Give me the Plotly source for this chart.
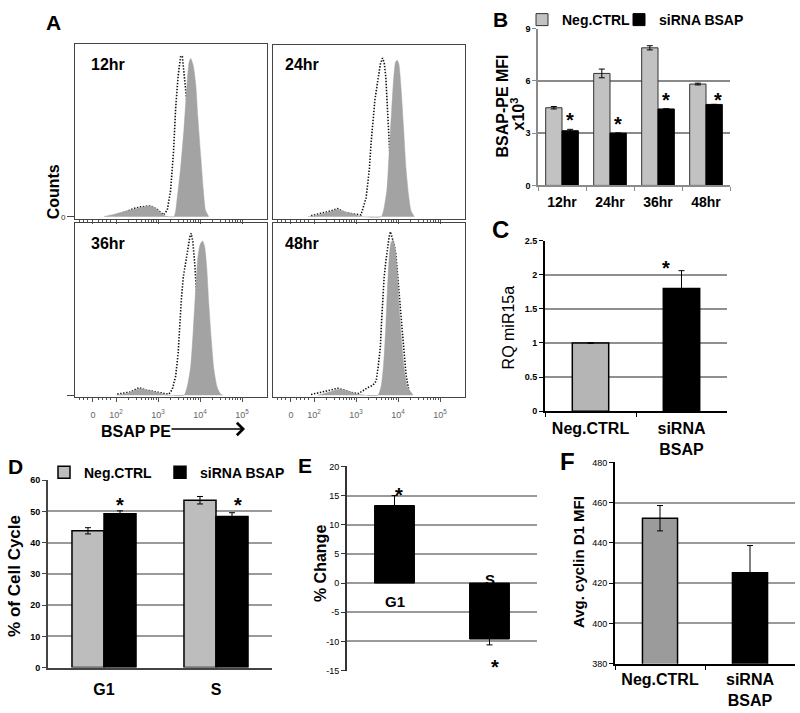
import numpy as np
import plotly.graph_objects as go

W, H = 800, 713
FONT = "Liberation Sans, Arial, Helvetica, sans-serif"


def px(x):
    return x / W


def py(y):
    return 1 - y / H


# ---------------- Panel A: flow histograms (x in decades, y in % of max) ----------------
hist_labels = ['12hr', '24hr', '36hr', '48hr']
hist_tick_labels = ['0', '10<sup>2</sup>', '10<sup>3</sup>', '10<sup>4</sup>', '10<sup>5</sup>']

h12_fill_x = [1.71, 2.03, 2.27, 2.51, 2.83, 2.98, 3.10, 3.18, 3.38, 3.46, 3.54, 3.62, 3.70, 3.74, 3.78, 3.84, 3.90, 3.95, 4.02, 4.08, 4.13, 4.21]
h12_fill_y = [0, 1.9, 3.4, 4.8, 6.3, 4.2, 1.5, 0.4, 0, 11.4, 28.6, 51.4, 79.8, 89.5, 91.8, 87.6, 76.2, 57.1, 34.3, 15.2, 3.8, 0]
h12_dot_x = [2.03, 2.43, 2.59, 2.83, 2.98, 3.13, 3.22, 3.30, 3.37, 3.42, 3.48, 3.54, 3.58, 3.62, 3.66, 3.74, 3.82, 3.90, 3.98]
h12_dot_y = [1.0, 4.8, 5.7, 6.3, 4.2, 1.1, 3.8, 15.2, 38.0, 62.9, 81.9, 93.3, 93.0, 83.8, 72.4, 53.3, 24.8, 5.7, 0]

h24_fill_x = [1.85, 2.17, 2.40, 2.56, 2.72, 2.96, 3.12, 3.20, 3.60, 3.67, 3.74, 3.79, 3.85, 3.90, 3.94, 3.98, 4.02, 4.07, 4.13, 4.19, 4.25, 4.31, 4.39]
h24_fill_y = [0, 1.5, 3.0, 4.4, 3.0, 1.5, 0.2, 0, 0, 5.3, 16.8, 37.7, 62.5, 81.5, 90.1, 91.4, 89.1, 75.8, 52.9, 28.2, 12.9, 3.4, 0]
h24_dot_x = [1.93, 2.25, 2.40, 2.56, 2.72, 2.96, 3.12, 3.24, 3.32, 3.36, 3.40, 3.45, 3.52, 3.58, 3.63, 3.67, 3.71, 3.75, 3.79, 3.83, 3.87, 3.93]
h24_dot_y = [0.6, 2.5, 3.4, 4.8, 2.5, 1.5, 1.1, 11.0, 28.2, 43.4, 56.6, 68.2, 79.6, 89.1, 92.6, 90.1, 81.5, 62.5, 39.6, 18.7, 6.3, 0.6]

h36_fill_x = [2.03, 2.27, 2.51, 2.59, 2.83, 3.06, 3.22, 3.30, 3.62, 3.70, 3.78, 3.84, 3.90, 3.95, 4.00, 4.06, 4.11, 4.16, 4.21, 4.27, 4.33, 4.41, 4.49, 4.55]
h36_fill_y = [0, 1.1, 3.4, 3.8, 2.5, 1.1, 0.2, 0, 0, 5.3, 16.8, 37.7, 62.5, 80.0, 87.2, 89.5, 86.3, 73.9, 52.9, 32.0, 14.9, 4.4, 0.6, 0]
h36_dot_x = [2.03, 2.35, 2.55, 2.71, 2.90, 3.10, 3.26, 3.34, 3.42, 3.48, 3.52, 3.56, 3.60, 3.66, 3.71, 3.76, 3.79, 3.83, 3.87, 3.90, 3.94, 4.00, 4.08, 4.16, 4.24]
h36_dot_y = [0.6, 1.9, 4.4, 2.9, 2.1, 1.1, 0.6, 3.4, 11.0, 24.4, 43.4, 56.8, 68.2, 77.7, 85.3, 92.0, 93.9, 89.1, 77.7, 62.5, 51.0, 36.0, 14.0, 2.0, 0]

h48_fill_x = [2.09, 2.33, 2.52, 2.64, 2.80, 2.96, 3.12, 3.20, 3.52, 3.60, 3.66, 3.71, 3.75, 3.79, 3.83, 3.88, 3.93, 3.98, 4.03, 4.09, 4.15, 4.23, 4.35]
h48_fill_y = [0, 1.5, 3.0, 3.4, 2.5, 1.1, 0.2, 0, 0, 5.3, 18.7, 39.6, 62.5, 79.6, 88.2, 90.1, 85.5, 72.0, 50.7, 30.1, 14.9, 4.4, 0.4]
h48_dot_x = [1.93, 2.17, 2.40, 2.56, 2.72, 2.88, 3.06, 3.16, 3.28, 3.40, 3.48, 3.53, 3.58, 3.61, 3.64, 3.67, 3.71, 3.75, 3.79, 3.82, 3.85, 3.88, 3.91, 3.95, 4.03, 4.11, 4.19, 4.27]
h48_dot_y = [0.4, 1.5, 3.0, 4.0, 3.0, 1.5, 1.0, 2.5, 4.4, 5.7, 8.2, 16.8, 28.2, 43.4, 58.6, 68.2, 77.7, 85.3, 92.0, 94.9, 92.6, 90.1, 87.2, 81.5, 60.0, 35.0, 12.0, 1.0]

# ---------------- Panel B ----------------
b_categories = ['12hr', '24hr', '36hr', '48hr']
b_neg = [4.46, 6.43, 7.90, 5.82]
b_neg_err = [0.07, 0.25, 0.12, 0.05]
b_si = [3.14, 3.00, 4.39, 4.65]
b_si_err = [0.08, 0.0, 0.0, 0.0]
series_names = ['Neg.CTRL', 'siRNA BSAP']

# ---------------- Panel C ----------------
c_categories = ['Neg.CTRL', 'siRNA BSAP']
c_labels = ['Neg.CTRL', 'siRNA<br>BSAP']
c_values = [1.00, 1.80]
c_err = [0.005, 0.26]

# ---------------- Panel D ----------------
d_categories = ['G1', 'S']
d_neg = [43.8, 53.6]
d_neg_err = [1.0, 1.2]
d_si = [49.3, 48.4]
d_si_err = [0.9, 1.2]

# ---------------- Panel E ----------------
e_categories = ['G1', 'S']
e_values = [13.3, -9.6]
e_err = [1.7, 1.0]
e_ticks = [-15, -10, -5, 0, 5, 10, 15, 20]

# ---------------- Panel F ----------------
f_categories = ['Neg.CTRL', 'siRNA BSAP']
f_labels = ['Neg.CTRL', 'siRNA<br>BSAP']
f_values = [452.3, 425.2]
f_err = [6.3, 13.5]

# =====================================================================
fig = go.Figure()
layout = {}
ann = []

HIST_GRAY = '#a3a3a3'
hist_boxes = [((75, 267), (40, 217)), ((273, 465), (41, 217)),
              ((75, 267), (221, 398)), ((273, 465), (221, 398))]
hist_series = [(h12_fill_x, h12_fill_y, h12_dot_x, h12_dot_y),
               (h24_fill_x, h24_fill_y, h24_dot_x, h24_dot_y),
               (h36_fill_x, h36_fill_y, h36_dot_x, h36_dot_y),
               (h48_fill_x, h48_fill_y, h48_dot_x, h48_dot_y)]
minor_vals = sorted([d + float(np.log10(k)) for d in (2, 3, 4) for k in range(2, 10)]
                    + [1.12, 1.22, 1.32, 1.58, 1.68, 1.78, 1.88])

for i, ((x0, x1), (y0, y1)) in enumerate(hist_boxes):
    n = i + 1
    key = '' if n == 1 else str(n)
    xa, ya = 'x' + key, 'y' + key
    fx, fy, dx, dy = hist_series[i]
    fig.add_trace(go.Scatter(x=dx, y=dy, mode='lines', line=dict(color='#111', width=1.6, dash='1.4px,1.6px'),
                             xaxis=xa, yaxis=ya, showlegend=False, hoverinfo='skip'))
    fig.add_trace(go.Scatter(x=fx, y=fy, mode='lines', fill='tozeroy', fillcolor=HIST_GRAY,
                             line=dict(color=HIST_GRAY, width=0.5, shape='spline', smoothing=0.6),
                             xaxis=xa, yaxis=ya, showlegend=False, hoverinfo='skip'))
    layout['xaxis' + key] = dict(domain=[px(x0), px(x1)], anchor=ya, range=[1.024, 5.595], showgrid=False,
                                 zeroline=False, showline=True, mirror=True, linecolor='#444', linewidth=1,
                                 ticks='outside', ticklen=4, tickcolor='#555', tickmode='array',
                                 tickvals=[1.45, 2, 3, 4, 5], ticktext=hist_tick_labels,
                                 showticklabels=(n >= 3), ticklabelstandoff=5,
                                 tickfont=dict(family=FONT, size=9, color='#666'),
                                 minor=dict(tickmode='array', tickvals=minor_vals, ticks='outside',
                                            ticklen=2, tickcolor='#555'))
    layout['yaxis' + key] = dict(domain=[py(y1), py(y0)], anchor=xa, range=[-1.3, 100], showgrid=False,
                                 zeroline=False, showline=True, mirror=True, linecolor='#444', linewidth=1,
                                 tickmode='array', tickvals=[0] if n in (1, 3) else [], ticktext=['0'],
                                 ticks='outside' if n in (1, 3) else '', ticklen=7, tickcolor='#444',
                                 showticklabels=(n == 1), tickfont=dict(family=FONT, size=8, color='#333'))
    lx = 89 if n in (1, 3) else 283
    ly = 60 if n <= 2 else 242
    ann.append(dict(x=px(lx), y=py(ly), xref='paper', yref='paper', text=hist_labels[i], showarrow=False,
                    xanchor='left', yanchor='middle', font=dict(family=FONT, size=16, weight='bold', color='black')))

ERR = dict(type='data', color='black', thickness=1, width=3)

# ---------- Panel B ----------
fig.add_trace(go.Bar(x=b_categories, y=b_neg, name=series_names[0], offset=-0.34, width=0.34,
                     marker=dict(color='#c2c2c2', line=dict(color='#333', width=1)),
                     error_y=dict(array=b_neg_err, **ERR), xaxis='x5', yaxis='y5', legend='legend'))
fig.add_trace(go.Bar(x=b_categories, y=b_si, name=series_names[1], offset=0, width=0.34,
                     marker=dict(color='black', line=dict(color='black', width=1)),
                     error_y=dict(array=b_si_err, **ERR), xaxis='x5', yaxis='y5', legend='legend3'))
layout['xaxis5'] = dict(domain=[px(538), px(730)], anchor='y5', type='category', range=[-0.5, 3.5],
                        showline=True, linecolor='#8a8a8a', linewidth=1.5, ticks='outside', tickson='boundaries',
                        ticklen=4, tickcolor='#8a8a8a', showgrid=False, ticklabelstandoff=3,
                        tickfont=dict(family=FONT, size=14, weight='bold', color='black'))
layout['yaxis5'] = dict(domain=[py(183), py(24)], anchor='x5', range=[0, 9], tickmode='array', tickvals=[0, 3, 6, 9],
                        showgrid=True, gridcolor='#8a8a8a', gridwidth=1.5, zeroline=False, showline=True,
                        linecolor='#8a8a8a', linewidth=1.5, ticks='outside', ticklen=4, tickcolor='#8a8a8a',
                        tickfont=dict(family=FONT, size=9, weight='bold', color='black'))

# ---------- Panel C ----------
fig.add_trace(go.Bar(x=c_categories, y=c_values, width=0.4, showlegend=False,
                     marker=dict(color=['#b5b5b5', 'black'], line=dict(color='black', width=1.5)),
                     error_y=dict(array=c_err, **ERR), xaxis='x6', yaxis='y6'))
layout['xaxis6'] = dict(domain=[px(545), px(727)], anchor='y6', type='category', range=[-0.5, 1.5],
                        tickmode='array', tickvals=c_categories, ticktext=c_labels,
                        showline=True, linecolor='black', linewidth=2, ticks='outside', tickson='boundaries',
                        ticklen=4, tickcolor='black', showgrid=False, ticklabelstandoff=2,
                        tickfont=dict(family=FONT, size=16, weight='bold', color='black'))
layout['yaxis6'] = dict(domain=[py(412), py(239)], anchor='x6', range=[0, 2.5], dtick=0.5,
                        showgrid=True, gridcolor='#8f8f8f', gridwidth=1.5, zeroline=False, showline=True,
                        linecolor='black', linewidth=2, ticks='outside', ticklen=4, tickcolor='black',
                        tickfont=dict(family=FONT, size=9, weight='bold', color='black'))

# ---------- Panel D ----------
fig.add_trace(go.Bar(x=d_categories, y=d_neg, name=series_names[0], offset=-0.286, width=0.286,
                     marker=dict(color='#bdbdbd', line=dict(color='black', width=1.5)),
                     error_y=dict(array=d_neg_err, **ERR), xaxis='x7', yaxis='y7', legend='legend2'))
fig.add_trace(go.Bar(x=d_categories, y=d_si, name=series_names[1], offset=0, width=0.286,
                     marker=dict(color='black', line=dict(color='black', width=1.5)),
                     error_y=dict(array=d_si_err, **ERR), xaxis='x7', yaxis='y7', legend='legend4'))
layout['xaxis7'] = dict(domain=[px(48), px(272)], anchor='y7', type='category', range=[-0.5, 1.5],
                        showline=True, linecolor='#444', linewidth=2, ticks='', showgrid=False,
                        ticklabelstandoff=6,
                        tickfont=dict(family=FONT, size=16, weight='bold', color='black'))
layout['yaxis7'] = dict(domain=[py(672), py(482)], anchor='x7', range=[0, 60], dtick=10,
                        showgrid=True, gridcolor='#9a9a9a', gridwidth=1.5, zeroline=False, showline=True,
                        linecolor='#444', linewidth=2, ticks='outside', ticklen=4, tickcolor='#444',
                        tickfont=dict(family=FONT, size=9, weight='bold', color='black'))

# ---------- Panel E ----------
fig.add_trace(go.Bar(x=e_categories, y=e_values, width=0.42, showlegend=False,
                     marker=dict(color='black', line=dict(color='black', width=1)),
                     error_y=dict(array=e_err, **ERR), xaxis='x8', yaxis='y8'))
layout['xaxis8'] = dict(domain=[px(347), px(537)], anchor='y8', type='category', range=[-0.5, 1.5],
                        showline=False, showticklabels=False, ticks='', showgrid=False)
layout['yaxis8'] = dict(domain=[py(675), py(468)], anchor='x8', range=[-15, 20], tickmode='array',
                        tickvals=e_ticks, ticktext=[str(v) for v in e_ticks],
                        showgrid=True, gridcolor='#9a9a9a', gridwidth=1.5, zeroline=True,
                        zerolinecolor='#9a9a9a', zerolinewidth=1.5, showline=True,
                        linecolor='#333', linewidth=2, ticks='outside', ticklen=4, tickcolor='#333',
                        tickfont=dict(family=FONT, size=9, color='black'))

# ---------- Panel F ----------
fig.add_trace(go.Bar(x=f_categories, y=f_values, width=0.39, showlegend=False,
                     marker=dict(color=['#9b9b9b', 'black'], line=dict(color='black', width=1.5)),
                     error_y=dict(array=f_err, **ERR), xaxis='x9', yaxis='y9'))
layout['xaxis9'] = dict(domain=[px(615), px(795)], anchor='y9', type='category', range=[-0.5, 1.5],
                        tickmode='array', tickvals=f_categories, ticktext=f_labels,
                        showline=True, linecolor='black', linewidth=2, ticks='outside', tickson='boundaries',
                        ticklen=4, tickcolor='black', showgrid=False, ticklabelstandoff=0,
                        tickfont=dict(family=FONT, size=16, weight='bold', color='black'))
layout['yaxis9'] = dict(domain=[py(668), py(464)], anchor='x9', range=[380, 480], dtick=20,
                        showgrid=True, gridcolor='#9a9a9a', gridwidth=1.5, zeroline=False, showline=True,
                        linecolor='black', linewidth=2, ticks='outside', ticklen=4, tickcolor='black',
                        tickfont=dict(family=FONT, size=9, color='black'))


# ---------------- annotations ----------------
def text(x, y, s, size, bold=True, angle=0, xanchor='center'):
    ann.append(dict(x=px(x), y=py(y), xref='paper', yref='paper', text=s, showarrow=False,
                    font=dict(family=FONT, size=size, color='black', weight='bold' if bold else 'normal'),
                    textangle=angle, xanchor=xanchor, yanchor='middle'))


# panel letters
text(53, 18, 'A', 21)
text(500, 15, 'B', 21)
text(500, 228, 'C', 24)
text(15, 468, 'D', 21)
text(305, 467, 'E', 21)
text(567, 463, 'F', 24)

# axis titles
text(53, 190, 'Counts', 16, angle=-90)
text(136, 433, 'BSAP PE', 16)
ann.append(dict(x=px(245), y=py(430), xref='paper', yref='paper', ax=-75, ay=0, text='', showarrow=True,
                arrowhead=4, arrowsize=1.6, arrowwidth=1.5, arrowcolor='black'))
text(503, 103, 'BSAP-PE MFI', 16, angle=-90)
text(518, 111, 'x10<sup>3</sup>', 16, angle=-90)
text(508, 327, 'RQ miR15a', 16, bold=False, angle=-90)
text(15, 579, '% of Cell Cycle', 17, angle=-90)
text(320, 567, '% Change', 16, angle=-90)
text(578, 565, 'Avg. cyclin D1 MFI', 15, angle=-90)


def star(xref, yref, x, y, xshift=0, yshift=0):
    ann.append(dict(x=x, y=y, xref=xref, yref=yref, text='*', showarrow=False, xshift=xshift, yshift=yshift,
                    font=dict(family=FONT, size=20, weight='bold', color='black'), yanchor='middle'))


for i in range(4):
    star('x5', 'y5', i + 0.17, b_si[i] + b_si_err[i], xshift=(4 if i == 3 else 0), yshift=(4 if i == 3 else 9))
star('x6', 'y6', 1, c_values[1] + c_err[1], xshift=-16, yshift=3)
star('x7', 'y7', 0.143, d_si[0] + d_si_err[0], yshift=6)
star('x7', 'y7', 1.143, d_si[1] + d_si_err[1], xshift=6, yshift=8)
star('x8', 'y8', 0, e_values[0] + e_err[0], xshift=4, yshift=1)
star('x8', 'y8', 1, e_values[1] - e_err[1], xshift=5, yshift=-22)

# E category labels placed inside the plot
ann.append(dict(x=0, y=0, xref='x8', yref='y8', text=e_categories[0], showarrow=False, yshift=-18,
                font=dict(family=FONT, size=15, weight='bold', color='black')))
ann.append(dict(x=1, y=0, xref='x8', yref='y8', text=e_categories[1], showarrow=False, yshift=4,
                font=dict(family=FONT, size=15, weight='bold', color='black')))

LEG_FONT = dict(family=FONT, size=14, weight='bold', color='black')


def leg(x, y):
    return dict(x=px(x), y=py(y), xanchor='left', yanchor='top', orientation='h', font=LEG_FONT,
                bgcolor='rgba(0,0,0,0)', itemwidth=30)


fig.update_layout(
    width=W, height=H, margin=dict(l=0, r=0, t=0, b=0),
    paper_bgcolor='white', plot_bgcolor='white',
    font=dict(family=FONT, color='black'),
    barmode='overlay',
    annotations=ann,
    legend=leg(522, -1),
    legend3=leg(619, -1),
    legend2=leg(44, 458),
    legend4=leg(160, 458),
    **layout,
)

fig.write_html("out.html", config={'displayModeBar': False},
               post_script="document.body.style.margin='0px';document.body.style.overflow='hidden';")
